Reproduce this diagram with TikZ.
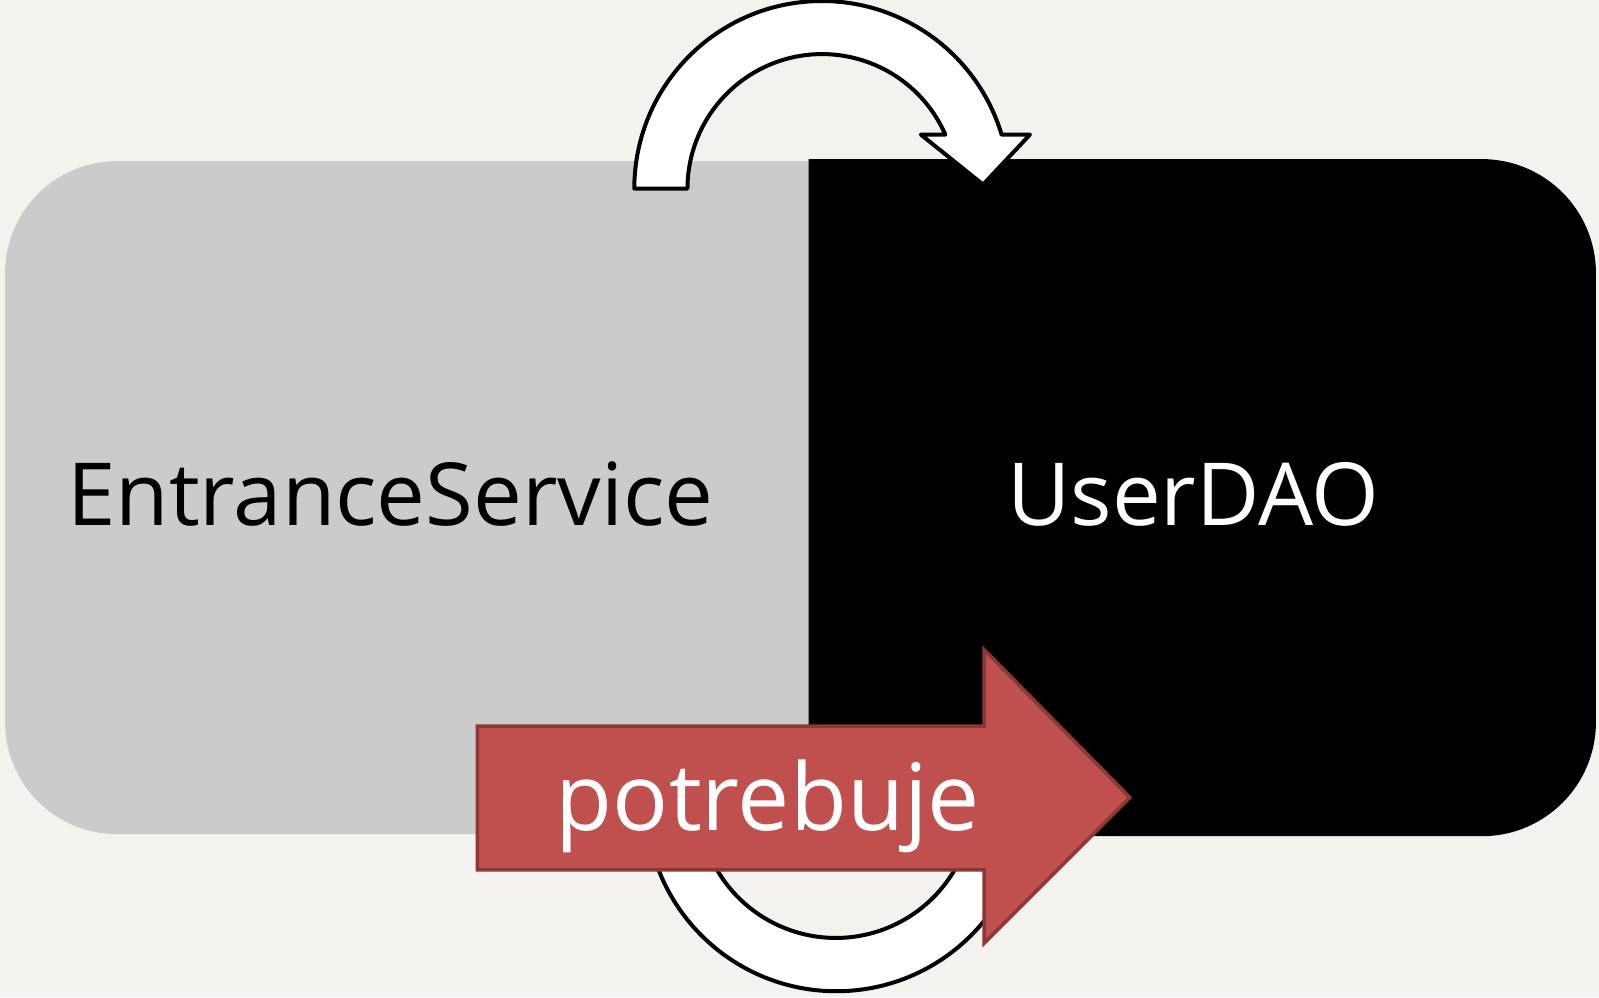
\documentclass[tikz,border=0pt]{standalone}
\usepackage{fontspec}
\setmainfont{Open Sans}
\definecolor{bgc}{HTML}{F3F2EE}
\definecolor{grayc}{HTML}{CBCBCB}
\definecolor{redf}{HTML}{C0504D}
\definecolor{redd}{HTML}{8C3836}
\begin{document}
\begin{tikzpicture}[x=1.0198pt,y=-1.0198pt,
  loopar/.style={fill=white,draw=black,line width=4pt,line join=round},
  redar/.style={fill=redf,draw=redd,line width=3.5pt,line join=miter},
  lbl/.style={anchor=base,inner sep=0pt,font=\fontsize{87}{100}\selectfont}]
\fill[bgc] (0,0) rectangle (1568,977.7);
\useasboundingbox (0,0) rectangle (1568,977.7);
% gray box
\fill[grayc,rounded corners=112pt] (5,158) rectangle (950,818);
% black box
\fill[black] (793,156) -- (1453,156) arc[start angle=270,end angle=360,radius=112]
  -- (1565,708) arc[start angle=0,end angle=90,radius=112] -- (793,820) -- cycle;
% top loop arrow
\draw[loopar] (622,185) arc[start angle=180,end angle=343.3,radius=184]
  -- (1010,132) -- (964,181) -- (903,132) -- (927,132)
  arc[start angle=336.3,end angle=180,radius=132] -- cycle;
% bottom loop arrow
\draw[loopar] (1007,785) arc[start angle=0,end angle=163.3,radius=187]
  -- (613,839) -- (659,789) -- (721,839) -- (696,839)
  arc[start angle=156.3,end angle=0,radius=135] -- cycle;
% red arrow
\draw[redar] (468,712) -- (965,712) -- (965,637) -- (1108,782) -- (965,925)
  -- (965,853) -- (468,853) -- cycle;
\node[lbl,text=black] (es) at (383,515) {EntranceService};
\node[lbl,text=white] (ud) at (1170,515) {UserDAO};
\node[lbl,text=white,font=\fontsize{93}{110}\selectfont] (pt) at (753,814) {potrebuje};
\end{tikzpicture}
\end{document}
